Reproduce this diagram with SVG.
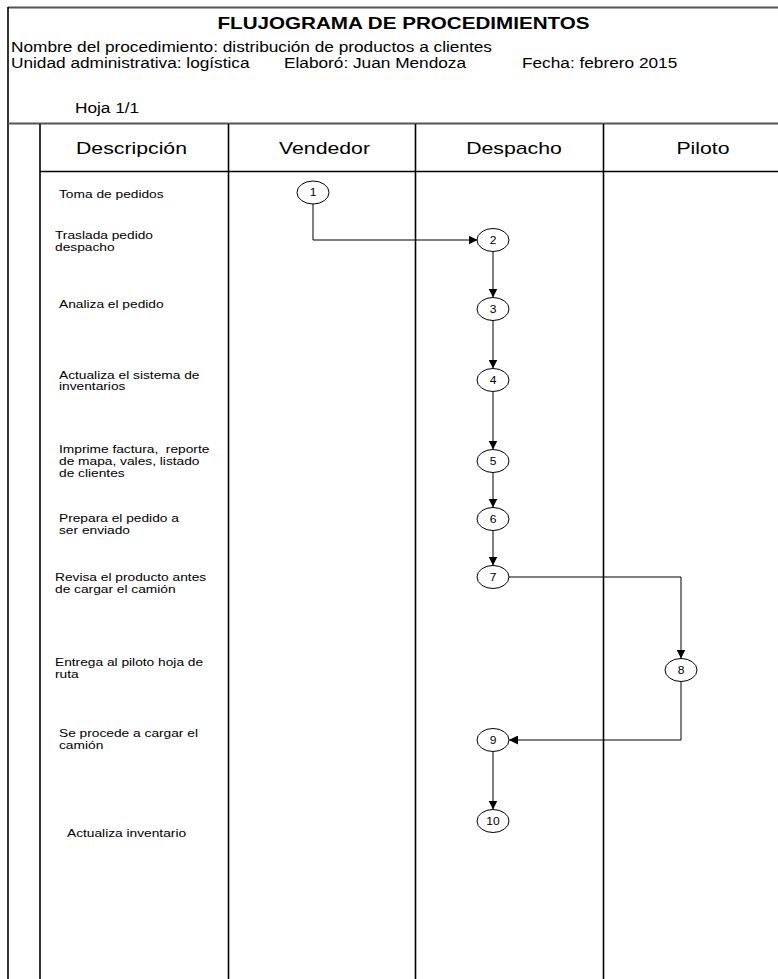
<svg xmlns="http://www.w3.org/2000/svg" width="778" height="979" viewBox="0 0 778 979">
  <style>
    text { font-family: "Liberation Sans", Arial, sans-serif; fill: #000; }
    .title { font-size: 16.5px; font-weight: bold; text-anchor: middle; }
    .info { font-size: 13.8px; }
    .head { font-size: 17px; text-anchor: middle; }
    .desc { font-size: 11px; }
    .num { font-size: 10.5px; text-anchor: middle; }
    .frame { stroke: #000; stroke-width: 1.6; fill: none; }
    .rule { stroke: #555; stroke-width: 2.2; fill: none; }
    .node ellipse { fill: #fff; stroke: #000; stroke-width: 1; }
    .edge { fill: none; stroke: #000; stroke-width: 1; marker-end: url(#arrow); }
  </style>
  <defs>
    <marker id="arrow" markerUnits="userSpaceOnUse" markerWidth="10" markerHeight="9" refX="9" refY="4.5" orient="auto">
      <path d="M0,0 L9,4.5 L0,9 Z" fill="#000"/>
    </marker>
  </defs>

  <rect width="778" height="979" fill="#fff"/>

  <!-- page frame and swimlane grid -->
  <g id="frame">
    <line class="rule" x1="8" y1="7.5" x2="778" y2="7.5"/>
    <line class="frame" x1="8" y1="7" x2="8" y2="979"/>
    <line class="rule" x1="8" y1="123.5" x2="778" y2="123.5"/>
    <line class="frame" x1="40" y1="124" x2="40" y2="979"/>
    <line class="frame" x1="228.5" y1="124" x2="228.5" y2="979"/>
    <line class="frame" x1="415.5" y1="124" x2="415.5" y2="979"/>
    <line class="frame" x1="603.5" y1="124" x2="603.5" y2="979"/>
    <line class="frame" x1="40" y1="171.5" x2="778" y2="171.5"/>
  </g>

  <!-- document header -->
  <g id="doc-header" transform="scale(1.25,1)">
    <text class="title" x="322.8" y="29">FLUJOGRAMA DE PROCEDIMIENTOS</text>
    <text class="info" x="8.8" y="52">Nombre del procedimiento: distribución de productos a clientes</text>
    <text class="info" x="8.8" y="68">Unidad administrativa: logística</text>
    <text class="info" x="227.2" y="68">Elaboró: Juan Mendoza</text>
    <text class="info" x="417.6" y="68">Fecha: febrero 2015</text>
    <text class="info" x="60" y="113">Hoja 1/1</text>
  </g>

  <!-- lane titles -->
  <g id="lane-titles" transform="scale(1.25,1)">
    <text class="head" x="105.2" y="154">Descripción</text>
    <text class="head" x="259.6" y="154">Vendedor</text>
    <text class="head" x="411.2" y="154">Despacho</text>
    <text class="head" x="562.4" y="154">Piloto</text>
  </g>

  <!-- step descriptions -->
  <g id="descriptions" transform="scale(1.25,1)">
    <text class="desc" x="47.2" y="198">Toma de pedidos</text>
    <text class="desc" x="44" y="239">Traslada pedido</text>
    <text class="desc" x="44" y="251">despacho</text>
    <text class="desc" x="47.2" y="308">Analiza el pedido</text>
    <text class="desc" x="47.2" y="379">Actualiza el sistema de</text>
    <text class="desc" x="47.2" y="390">inventarios</text>
    <text class="desc" x="47.2" y="453" xml:space="preserve">Imprime factura,  reporte</text>
    <text class="desc" x="47.2" y="465">de mapa, vales, listado</text>
    <text class="desc" x="47.2" y="477">de clientes</text>
    <text class="desc" x="47.2" y="522">Prepara el pedido a</text>
    <text class="desc" x="47.2" y="534">ser enviado</text>
    <text class="desc" x="44" y="581">Revisa el producto antes</text>
    <text class="desc" x="44" y="593">de cargar el camión</text>
    <text class="desc" x="44" y="666">Entrega al piloto hoja de</text>
    <text class="desc" x="44" y="678">ruta</text>
    <text class="desc" x="47.2" y="737">Se procede a cargar el</text>
    <text class="desc" x="47.2" y="749">camión</text>
    <text class="desc" x="53.6" y="837">Actualiza inventario</text>
  </g>

  <!-- connectors -->
  <g id="connectors">
    <path class="edge" d="M313,204 V240 H477.5"/>
    <path class="edge" d="M493,251.5 V297.5"/>
    <path class="edge" d="M493,320.5 V368.5"/>
    <path class="edge" d="M493,391.5 V449.5"/>
    <path class="edge" d="M493,472.5 V507.5"/>
    <path class="edge" d="M493,530.5 V565.5"/>
    <path class="edge" d="M509,577 H681 V658.5"/>
    <path class="edge" d="M681,681.5 V740 H509"/>
    <path class="edge" d="M493,751.5 V809.5"/>
  </g>

  <!-- process steps -->
  <g id="n1" class="node"><ellipse cx="313" cy="192.5" rx="16" ry="11.5"/><text class="num" transform="scale(1.15,1)" x="272.2" y="196.3">1</text></g>
  <g id="n2" class="node"><ellipse cx="493" cy="240" rx="16" ry="11.5"/><text class="num" transform="scale(1.15,1)" x="428.7" y="243.8">2</text></g>
  <g id="n3" class="node"><ellipse cx="493" cy="309" rx="16" ry="11.5"/><text class="num" transform="scale(1.15,1)" x="428.7" y="312.8">3</text></g>
  <g id="n4" class="node"><ellipse cx="493" cy="380" rx="16" ry="11.5"/><text class="num" transform="scale(1.15,1)" x="428.7" y="383.8">4</text></g>
  <g id="n5" class="node"><ellipse cx="493" cy="461" rx="16" ry="11.5"/><text class="num" transform="scale(1.15,1)" x="428.7" y="464.8">5</text></g>
  <g id="n6" class="node"><ellipse cx="493" cy="519" rx="16" ry="11.5"/><text class="num" transform="scale(1.15,1)" x="428.7" y="522.8">6</text></g>
  <g id="n7" class="node"><ellipse cx="493" cy="577" rx="16" ry="11.5"/><text class="num" transform="scale(1.15,1)" x="428.7" y="580.8">7</text></g>
  <g id="n8" class="node"><ellipse cx="681" cy="670" rx="16" ry="11.5"/><text class="num" transform="scale(1.15,1)" x="592.2" y="673.8">8</text></g>
  <g id="n9" class="node"><ellipse cx="493" cy="740" rx="16" ry="11.5"/><text class="num" transform="scale(1.15,1)" x="428.7" y="743.8">9</text></g>
  <g id="n10" class="node"><ellipse cx="493" cy="821" rx="16" ry="11.5"/><text class="num" transform="scale(1.15,1)" x="428.7" y="824.8">10</text></g>
</svg>
